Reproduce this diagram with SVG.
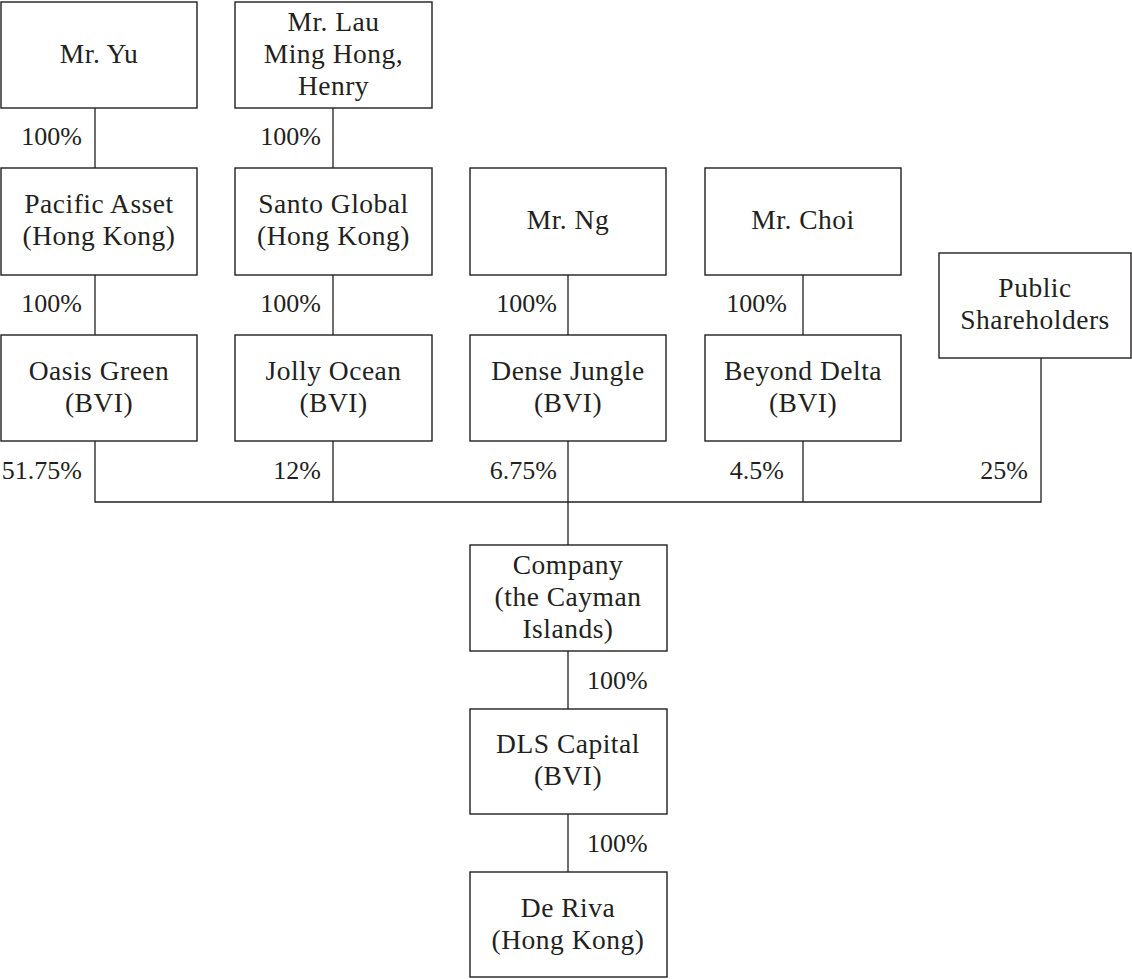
<svg xmlns="http://www.w3.org/2000/svg" width="1132" height="979" viewBox="0 0 1132 979">
<style>
.b{fill:#fff;stroke:#231f20;stroke-width:1.4}
.c line,.c path{stroke:#231f20;stroke-width:1.3;fill:none}
text{font-family:"Liberation Serif","Times New Roman",serif;font-size:26px;fill:#231f20}
.m{text-anchor:middle;font-size:27.5px;letter-spacing:0.5px}
.p{text-anchor:end}
</style>
<rect width="1132" height="979" fill="#fff"/>
<g class="c" id="connectors">
<line x1="95" y1="108" x2="95" y2="168"/>
<line x1="95" y1="275" x2="95" y2="335"/>
<line x1="333" y1="108" x2="333" y2="168"/>
<line x1="333" y1="275" x2="333" y2="335"/>
<line x1="568" y1="275" x2="568" y2="335"/>
<line x1="803" y1="275" x2="803" y2="335"/>
<path d="M95 441V502H1041V358"/>
<line x1="333" y1="441" x2="333" y2="502"/>
<line x1="568" y1="441" x2="568" y2="545"/>
<line x1="803" y1="441" x2="803" y2="502"/>
<line x1="568" y1="651" x2="568" y2="709"/>
<line x1="568" y1="814" x2="568" y2="872"/>
<text class="p" x="82" y="145">100%</text>
<text class="p" x="321" y="145">100%</text>
<text class="p" x="82" y="312">100%</text>
<text class="p" x="321" y="312">100%</text>
<text class="p" x="557" y="312">100%</text>
<text class="p" x="787" y="312">100%</text>
<text class="p" x="82" y="479">51.75%</text>
<text class="p" x="321" y="479">12%</text>
<text class="p" x="557" y="479">6.75%</text>
<text class="p" x="784" y="479">4.5%</text>
<text class="p" x="1028" y="479">25%</text>
<text x="587" y="689">100%</text>
<text x="587" y="852">100%</text>
</g>
<g id="mr-yu"><rect class="b" x="1" y="2" width="196" height="106"/><text class="m" x="99" y="63">Mr. Yu</text></g>
<g id="mr-lau"><rect class="b" x="235" y="2" width="197" height="106"/><text class="m" x="333.5" y="31">Mr. Lau</text><text class="m" x="333.5" y="63">Ming Hong,</text><text class="m" x="333.5" y="95">Henry</text></g>
<g id="pacific-asset"><rect class="b" x="1" y="168" width="196" height="107"/><text class="m" x="99" y="213">Pacific Asset</text><text class="m" x="99" y="245">(Hong Kong)</text></g>
<g id="santo-global"><rect class="b" x="235" y="168" width="197" height="107"/><text class="m" x="333.5" y="213">Santo Global</text><text class="m" x="333.5" y="245">(Hong Kong)</text></g>
<g id="mr-ng"><rect class="b" x="470" y="168" width="196" height="107"/><text class="m" x="568" y="229">Mr. Ng</text></g>
<g id="mr-choi"><rect class="b" x="705" y="168" width="196" height="107"/><text class="m" x="803" y="229">Mr. Choi</text></g>
<g id="public"><rect class="b" x="939" y="253" width="192" height="105"/><text class="m" x="1035" y="297">Public</text><text class="m" x="1035" y="329">Shareholders</text></g>
<g id="oasis-green"><rect class="b" x="1" y="335" width="196" height="106"/><text class="m" x="99" y="380">Oasis Green</text><text class="m" x="99" y="412">(BVI)</text></g>
<g id="jolly-ocean"><rect class="b" x="235" y="335" width="197" height="106"/><text class="m" x="333.5" y="380">Jolly Ocean</text><text class="m" x="333.5" y="412">(BVI)</text></g>
<g id="dense-jungle"><rect class="b" x="470" y="335" width="196" height="106"/><text class="m" x="568" y="380">Dense Jungle</text><text class="m" x="568" y="412">(BVI)</text></g>
<g id="beyond-delta"><rect class="b" x="705" y="335" width="196" height="106"/><text class="m" x="803" y="380">Beyond Delta</text><text class="m" x="803" y="412">(BVI)</text></g>
<g id="company"><rect class="b" x="470" y="545" width="197" height="106"/><text class="m" x="568" y="574">Company</text><text class="m" x="568" y="606">(the Cayman</text><text class="m" x="568" y="638">Islands)</text></g>
<g id="dls-capital"><rect class="b" x="470" y="709" width="197" height="105"/><text class="m" x="568" y="753">DLS Capital</text><text class="m" x="568" y="785">(BVI)</text></g>
<g id="de-riva"><rect class="b" x="470" y="872" width="197" height="105"/><text class="m" x="568" y="917">De Riva</text><text class="m" x="568" y="949">(Hong Kong)</text></g>
</svg>
